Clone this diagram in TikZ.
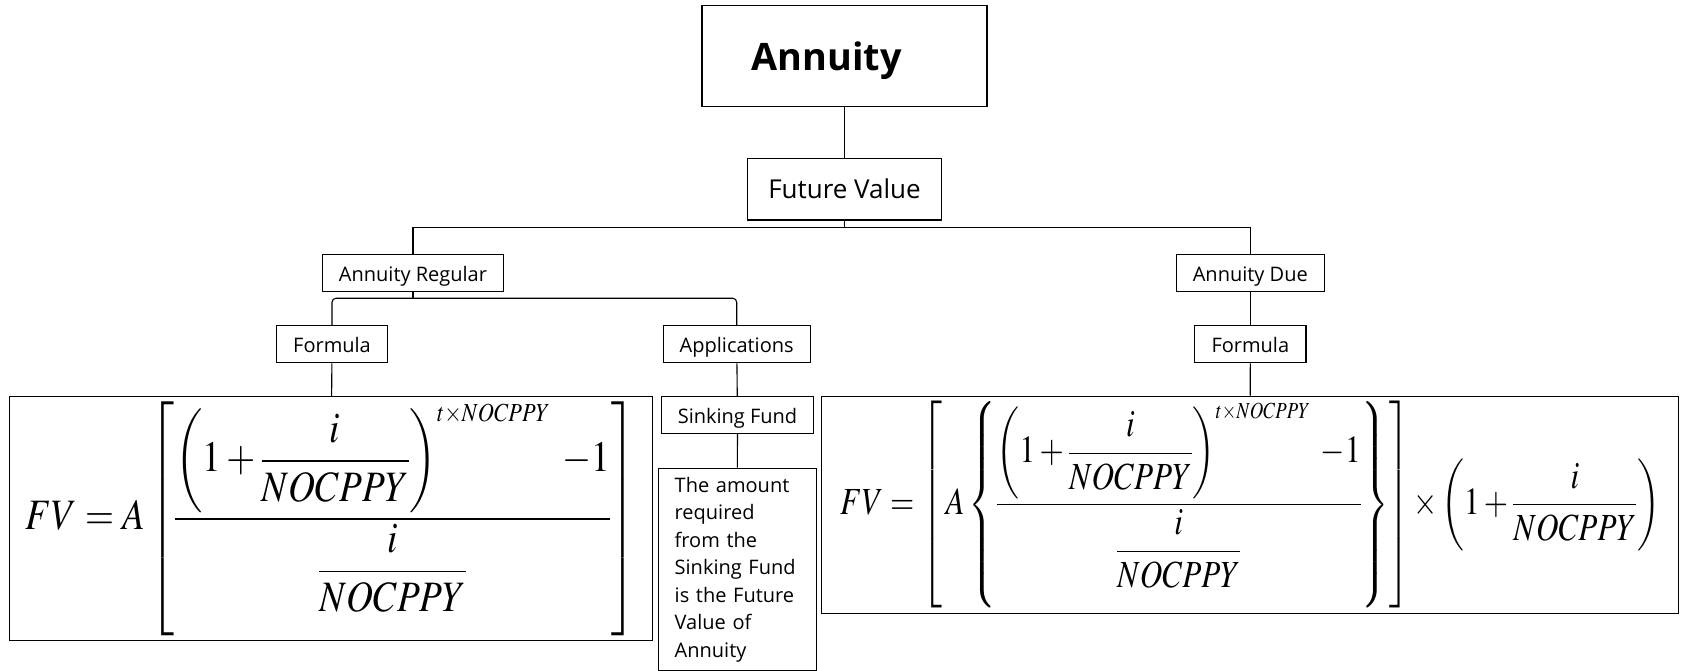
\documentclass[tikz,border=0pt]{standalone}
\usepackage{amsmath}
\usepackage{mathptmx}
\usepackage[no-math]{fontspec}
\setmainfont{Open Sans}
\usepackage{graphicx}
\usetikzlibrary{calc, positioning}

\tikzset{
    box/.style = {draw, line width=1.1pt, inner sep=0pt},
    tag/.style = {box, minimum height=37, font=\fontsize{20}{27.5}\selectfont, text height=17.5pt, text depth=0pt},
    eq/.style = {box, font=\fontsize{40}{48}\selectfont},
    link/.style = {line width=1.1pt},
}

\begin{document}
\begin{tikzpicture}[x=1pt, y=-1pt]
    \useasboundingbox (0,0) rectangle (1684,671);
    \node[box, minimum width=285, minimum height=101, font=\fontsize{37.8}{42}\selectfont\bfseries, text height=29.6pt, text depth=0pt] (annuity) at (844.5,56.2) {Annuity\hspace*{36pt}};
    \node[tag, minimum width=194, minimum height=61.7, font=\fontsize{26}{30}\selectfont, text height=19.6pt] (fv) at (844.5,189.2) {Future Value};
    \node[tag, minimum width=180.6] (regular) at (413,272.8) {Annuity Regular};
    \node[tag, minimum width=148] (due) at (1250.3,272.8) {Annuity Due};
    \node[tag, minimum width=111.4] (formL) at (332,344.2) {Formula};
    \node[tag, minimum width=146.7] (apps) at (736.7,344.2) {Applications};
    \node[tag, minimum width=111.3] (formR) at (1250.3,344.2) {Formula};
    \node[tag, minimum width=151.6, minimum height=36.6] (sink) at (737.5,415) {Sinking Fund};
    \node[box, anchor=north, text width=125pt, align=left, inner xsep=16.35pt, inner ysep=8.7pt, font=\fontsize{20}{27.5}\selectfont] (desc) at (737.2,467.7)
        {The amount\\required\\from the\\Sinking Fund\\is the Future\\Value of\\Annuity};
    \node[eq, minimum width=643, minimum height=244] (eqL) at (330.8,518.7)
        {\resizebox*{611pt}{234pt}{$\displaystyle FV = A\left[\frac{\left(1+\dfrac{i}{NOCPPY}\right)^{\scriptscriptstyle t\times NOCPPY}\;{-1}}{\dfrac{i}{NOCPPY}}\right]$}};
    \node[eq, minimum width=857, minimum height=217.3] (eqR) at (1250.2,504.7)
        {\resizebox*{820pt}{207pt}{$\displaystyle FV = \left[\,A\left\{\frac{\left(1+\dfrac{i}{NOCPPY}\right)^{\scriptscriptstyle t\times NOCPPY}\;{-1}}{\dfrac{i}{NOCPPY}}\right\}\right]{\times}\left(1+\frac{i}{NOCPPY}\right)$}};

    \coordinate (busTop) at ($(fv.south)+(0,6.7)$);
    \coordinate (busLow) at ($(regular.south)+(0,6.4)$);
    \draw[link] (annuity) -- (fv);
    \draw[link] (fv.south) -- (busTop);
    \draw[link] (regular.north) |- (busTop) -| (due.north);
    \draw[link] (regular.south) -- (busLow);
    \draw[link, rounded corners=4pt] (formL.north) |- (busLow) -| (apps.north);
    \draw[link] (due) -- (formR);
    \draw[link] (formL) -- (eqL);
    \draw[link] (formR) -- (eqR);
    \draw[link] (apps) -- (sink);
    \draw[link] (sink) -- (desc);
\end{tikzpicture}
\end{document}
